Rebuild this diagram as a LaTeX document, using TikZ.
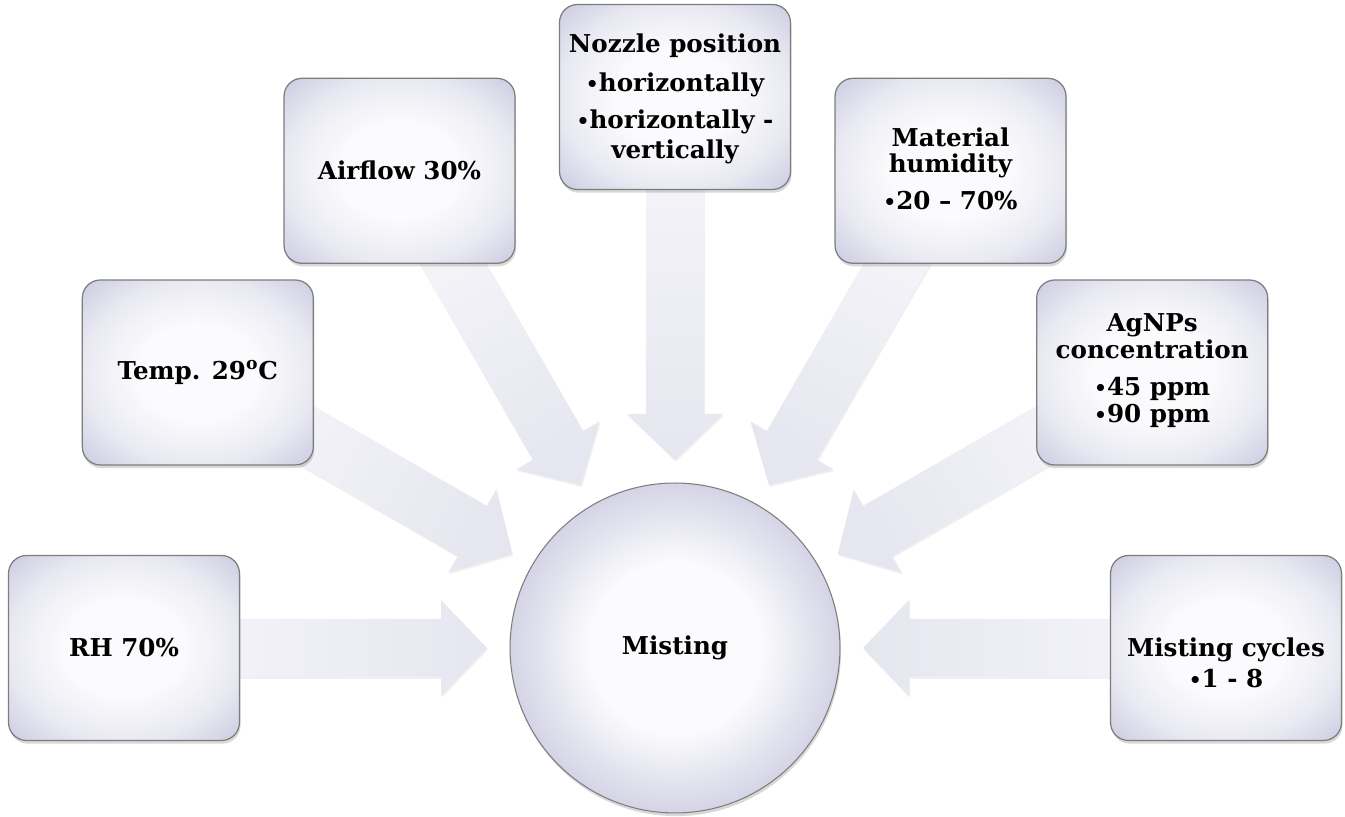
\documentclass[tikz,border=0pt]{standalone}
\usepackage{fontspec}
\setmainfont{DejaVu Serif}
\usetikzlibrary{calc,shadows,backgrounds}
\definecolor{boxedge}{RGB}{203,204,225}
\definecolor{boxmid}{RGB}{233,233,242}
\definecolor{boxcore}{RGB}{251,251,253}
\definecolor{circedge}{RGB}{212,212,230}
\definecolor{bordergray}{RGB}{125,125,125}
\definecolor{arrowtip}{RGB}{230,230,240}
\definecolor{arrowtail}{RGB}{243,243,248}
\newcommand\mybul{{\fontsize{11.5}{12}\selectfont •}}
\pgfdeclareradialshading{boxshade}{\pgfpoint{0bp}{0bp}}{color(0bp)=(boxcore); color(13bp)=(boxcore); color(25bp)=(boxmid); color(35bp)=(boxedge); color(50bp)=(boxedge)}
\pgfdeclareradialshading{circshade}{\pgfpoint{0bp}{0bp}}{color(0bp)=(boxcore); color(13bp)=(boxcore); color(25bp)=(circedge); color(50bp)=(circedge)}
\tikzset{
  factor/.style={draw=bordergray, line width=0.7pt, rounded corners=0.36cm,
    minimum width=4.62cm, minimum height=3.7cm, inner sep=0pt, shading=boxshade,
    drop shadow={opacity=0.3, shadow xshift=0.6pt, shadow yshift=-1.8pt}},
  hub/.style={circle, draw=bordergray, line width=0.6pt, minimum size=6.6cm,
    inner sep=0pt, shading=circshade,
    drop shadow={opacity=0.3, shadow xshift=0.6pt, shadow yshift=-1.8pt}},
  txt/.style={font=\fontsize{14}{15.4}\selectfont\bfseries, align=center, text=black, inner sep=0pt},
  flowarrow/.style={top color=arrowtail, middle color=white, bottom color=arrowtip,
    drop shadow={opacity=0.12, shadow xshift=0.5pt, shadow yshift=-1pt}}
}
\newcommand\flowarrow[2]{%
  \pgfmathanglebetweenpoints{\pgfpointanchor{#2}{center}}{\pgfpointanchor{#1}{center}}%
  \edef\arrang{\pgfmathresult}%
  \pgfmathsetmacro\shadang{\arrang-90}%
  \begin{scope}[shift={(#2)}, rotate=\arrang]
    \path[flowarrow, shading angle=\shadang]
      (470,29) -- (234,29) -- (234,48) -- (188,0) -- (234,-48) -- (234,-29) -- (470,-29) -- cycle;
  \end{scope}}
\begin{document}
\begin{tikzpicture}[x=0.02cm, y=0.02cm]
\useasboundingbox (0,0) rectangle (1345,817);
\node[hub, txt] (m) at (675,169) {Misting};
\node[factor] (b1) at ($(m)+(180:551)$) {};
\node[factor] (b2) at ($(m)+(150:551)$) {};
\node[factor] (b3) at ($(m)+(120:551)$) {};
\node[factor] (b4) at ($(m)+(90:551)$) {};
\node[factor] (b5) at ($(m)+(60:551)$) {};
\node[factor] (b6) at ($(m)+(30:551)$) {};
\node[factor] (b7) at ($(m)+(0:551)$) {};
\node[txt] (t1) at (b1) {RH 70\%};
\node[txt] (t2) at (b2) {Temp. 29\textsuperscript{o}C};
\node[txt] (t3) at (b3) {Airflow 30\%};
\node[txt] (t4) at ($(b4)+(0,-2)$) {Nozzle position\\[6.5pt]\mybul horizontally\\[6pt]\mybul horizontally -\\[1.5pt]vertically};
\node[txt] (t5) at ($(b5)+(0,2)$) {Material\\[-0.8pt]humidity\\[5.5pt]\mybul 20 – 70\%};
\node[txt] (t6) at ($(b6)+(0,2)$) {AgNPs\\concentration\\[6pt]\mybul 45 ppm\\\mybul 90 ppm};
\node[txt] (t7) at ($(b7)+(0,-15)$) {Misting cycles\\[2.6pt]\mybul 1 - 8};
\begin{scope}[on background layer]
  \flowarrow{b1}{m}
  \flowarrow{b2}{m}
  \flowarrow{b3}{m}
  \flowarrow{b4}{m}
  \flowarrow{b5}{m}
  \flowarrow{b6}{m}
  \flowarrow{b7}{m}
\end{scope}
\end{tikzpicture}
\end{document}
